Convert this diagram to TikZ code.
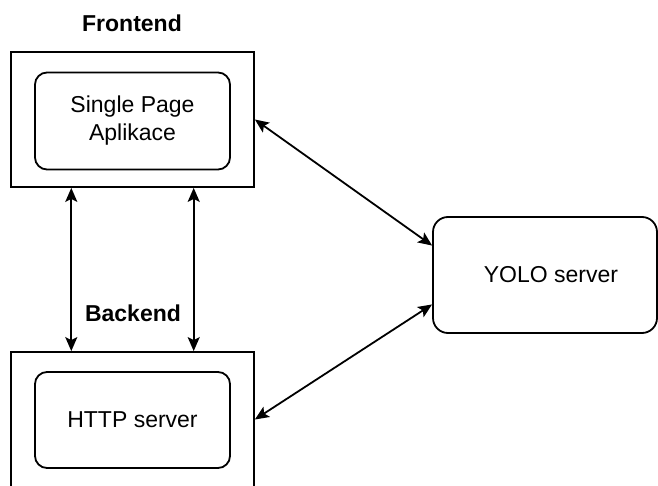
\documentclass[tikz,border=0pt]{standalone}
\usepackage{fontspec}
\setmainfont{Liberation Sans}
\usetikzlibrary{arrows.meta,calc}
\begin{document}
\begin{tikzpicture}[x=0.5pt,y=-0.5pt,
  lbl/.style={font=\fontsize{11.5pt}{14pt}\selectfont},
  ttl/.style={font=\fontsize{11.5pt}{14pt}\selectfont\bfseries},
  outerbox/.style={draw=black,line width=0.9pt,minimum width=121.5pt,minimum height=67.5pt,inner sep=0pt},
  innerbox/.style={draw=black,line width=0.9pt,rounded corners=6pt,minimum width=97.5pt,minimum height=48.5pt,inner sep=0pt,align=center,lbl},
  yolobox/.style={draw=black,line width=0.9pt,rounded corners=7.5pt,minimum width=112pt,minimum height=58pt,inner sep=0pt,lbl},
  arr/.style={draw=black,line width=0.9pt,{Stealth[length=7pt,width=6pt,inset=1.5pt]}-{Stealth[length=7pt,width=6pt,inset=1.5pt]}}
]
\useasboundingbox (0,0) rectangle (658,486);
\clip (0,0) rectangle (658,486);
\fill[white] (0,0) rectangle (658,486);

\node[ttl] (felbl) at (132,23) {Frontend};
\node[outerbox] (fe) at (132.5,119.5) {};
\node[innerbox] (spa) at (132.5,121) {Single Page\\Aplikace};

\node[ttl] (belbl) at (133,313) {Backend};
\node[outerbox] (be) at (132.5,419.5) {};
\node[innerbox,minimum height=48pt] (http) at (132.5,420) {HTTP server};

\node[yolobox] (yolo) at (545,275) {\hspace{6pt}YOLO server};

\draw[arr] ($(fe.south west)!0.25!(fe.south east)$) -- ($(be.north west)!0.25!(be.north east)$);
\draw[arr] ($(fe.south west)!0.75!(fe.south east)$) -- ($(be.north west)!0.75!(be.north east)$);
\draw[arr] (fe.east) -- ($(yolo.north west)!0.25!(yolo.south west)$);
\draw[arr] (be.east) -- ($(yolo.north west)!0.75!(yolo.south west)$);
\end{tikzpicture}
\end{document}
